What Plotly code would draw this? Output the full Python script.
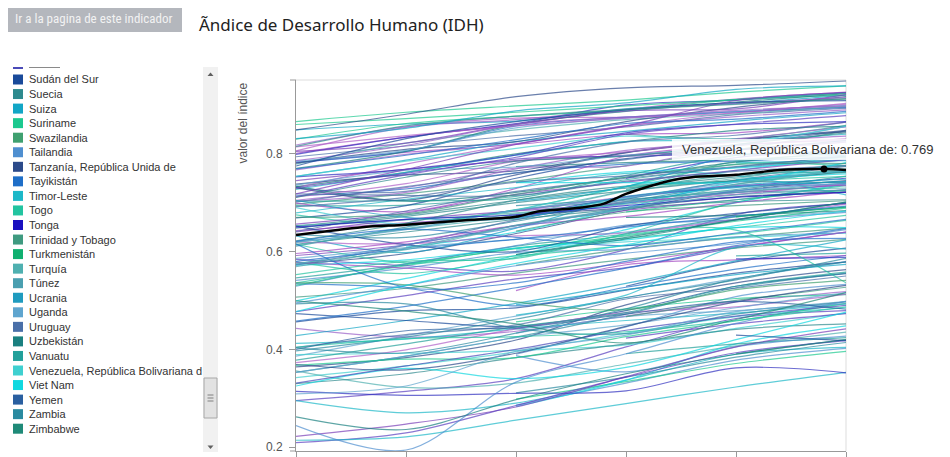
import plotly.graph_objects as go

# años con dato para todos los países
YEARS = [1990, 1995, 2000, 2005, 2010, 2015]

COUNTRIES = [
    "Afganistán", "Albania", "Alemania", "Andorra", "Angola", "Antigua y Barbuda", "Arabia Saudita", "Argelia", "Argentina", "Armenia",
    "Australia", "Austria", "Azerbaiyán", "Bahamas", "Bahrein", "Bangladesh", "Barbados", "Belarús", "Bélgica", "Belice",
    "Benin", "Bhután", "Bolivia (Estado Plurinacional de)", "Bosnia y Herzegovina", "Botswana", "Brasil", "Brunei Darussalam", "Bulgaria", "Burkina Faso", "Burundi",
    "Cabo Verde", "Camboya", "Camerún", "Canadá", "Chad", "Chile", "China", "Chipre", "Colombia", "Comoras",
    "Congo", "Congo (República Democrática del)", "Corea (República de)", "Costa Rica", "Côte d'Ivoire", "Croacia", "Cuba", "Dinamarca", "Djibouti", "Dominica",
    "Ecuador", "Egipto", "El Salvador", "Emiratos Árabes Unidos", "Eritrea", "Eslovaquia", "Eslovenia", "España", "Estados Unidos", "Estonia",
    "Etiopía", "Federación de Rusia", "Fiji", "Filipinas", "Finlandia", "Francia", "Gabón", "Gambia", "Georgia", "Ghana",
    "Granada", "Grecia", "Guatemala", "Guinea", "Guinea Ecuatorial", "Guinea-Bissau", "Guyana", "Haití", "Honduras", "Hong Kong, China (RAE)",
    "Hungría", "India", "Indonesia", "Irán (República Islámica del)", "Iraq", "Irlanda", "Islandia", "Israel", "Italia", "Jamaica",
    "Japón", "Jordania", "Kazajstán", "Kenya", "Kirguistán", "Kiribati", "Kuwait", "Lesotho", "Letonia", "Líbano",
    "Liberia", "Libia", "Liechtenstein", "Lituania", "Luxemburgo", "Macedonia", "Madagascar", "Malasia", "Malawi", "Maldivas",
    "Malí", "Malta", "Marruecos", "Mauricio", "Mauritania", "México", "Micronesia", "Moldova (República de)", "Mongolia", "Montenegro",
    "Mozambique", "Myanmar", "Namibia", "Nepal", "Nicaragua", "Níger", "Nigeria", "Noruega", "Nueva Zelandia", "Omán",
    "Países Bajos", "Pakistán", "Palau", "Palestina, Estado de", "Panamá", "Papua Nueva Guinea", "Paraguay", "Perú", "Polonia", "Portugal",
    "Qatar", "Reino Unido", "República Árabe Siria", "República Centroafricana", "República Checa", "República Democrática Popular Lao", "República Dominicana", "Rumania", "Rwanda", "Saint Kitts y Nevis",
    "Samoa", "San Vicente y las Granadinas", "Santa Lucía", "Santo Tomé y Príncipe", "Senegal", "Serbia", "Seychelles", "Sierra Leona", "Singapur", "Sri Lanka",
    "Sudáfrica", "Sudán", "Sudán del Sur", "Suecia", "Suiza", "Suriname", "Swazilandia", "Tailandia", "Tanzanía, República Unida de", "Tayikistán",
    "Timor-Leste", "Togo", "Tonga", "Trinidad y Tobago", "Turkmenistán", "Turquía", "Túnez", "Ucrania", "Uganda", "Uruguay",
    "Uzbekistán", "Vanuatu", "Viet Nam", "Yemen", "Zambia", "Zimbabwe",
]

HDI_1990 = [
    0.295, 0.635, 0.801, None, None, None, 0.697, 0.574, 0.705, 0.632,
    0.866, 0.794, None, None, 0.745, 0.386, 0.714, None, 0.806, 0.615,
    0.342, None, 0.536, None, 0.584, 0.611, 0.782, 0.694, None, 0.295,
    None, 0.364, 0.443, 0.849, None, 0.701, 0.499, 0.733, 0.592, None,
    0.534, 0.356, 0.731, 0.652, 0.389, 0.669, 0.675, 0.799, None, None,
    0.643, 0.546, 0.529, 0.727, None, 0.738, 0.767, 0.754, 0.860, 0.730,
    None, 0.734, 0.640, 0.586, 0.783, 0.779, 0.620, 0.330, None, 0.456,
    None, 0.753, 0.477, None, None, None, 0.541, 0.412, 0.507, 0.781,
    0.703, 0.428, 0.531, 0.572, 0.572, 0.770, 0.805, 0.785, 0.769, 0.653,
    0.814, 0.622, 0.690, 0.473, 0.615, None, 0.712, 0.493, 0.699, None,
    None, 0.679, None, 0.731, 0.786, None, None, 0.641, 0.325, None,
    0.222, 0.736, 0.458, 0.619, 0.373, 0.648, None, 0.652, 0.579, None,
    0.209, 0.353, 0.578, 0.378, 0.495, 0.214, None, 0.849, 0.818, None,
    0.830, 0.404, None, None, 0.656, 0.353, 0.580, 0.613, 0.712, 0.711,
    0.754, 0.775, 0.553, 0.314, 0.730, 0.397, 0.596, 0.703, 0.244, None,
    None, None, None, None, 0.367, 0.718, None, 0.262, 0.718, 0.620,
    0.621, 0.331, None, 0.815, 0.831, None, 0.536, 0.574, 0.369, 0.616,
    None, 0.404, 0.650, 0.670, None, 0.576, 0.569, 0.705, 0.309, 0.692,
    None, None, 0.477, 0.400, 0.403, 0.499,
]

HDI_1995 = [
    0.314, 0.629, 0.834, None, None, None, 0.718, 0.596, 0.731, 0.598,
    0.885, 0.816, 0.609, None, 0.768, 0.428, 0.728, 0.656, 0.854, 0.640,
    0.366, None, 0.571, None, 0.571, 0.650, 0.803, 0.695, None, 0.270,
    None, 0.383, 0.425, 0.861, None, 0.733, 0.545, 0.762, 0.614, None,
    0.525, 0.322, 0.779, 0.675, 0.392, 0.694, 0.654, 0.834, None, None,
    0.659, 0.575, 0.575, 0.762, None, 0.757, 0.799, 0.787, 0.872, 0.723,
    None, 0.703, 0.666, 0.608, 0.805, 0.822, 0.616, 0.350, None, 0.479,
    None, 0.768, 0.510, None, None, None, 0.566, 0.421, 0.525, 0.809,
    0.721, 0.459, 0.573, 0.613, 0.583, 0.805, 0.822, 0.807, 0.797, 0.665,
    0.837, 0.658, 0.656, 0.459, 0.577, None, 0.757, 0.493, 0.682, None,
    None, 0.707, None, 0.705, 0.817, None, None, 0.683, 0.361, None,
    0.247, 0.766, 0.488, 0.646, 0.399, 0.672, None, 0.614, 0.555, None,
    0.229, 0.386, 0.566, 0.411, 0.531, 0.221, None, 0.881, 0.855, None,
    0.862, 0.430, None, None, 0.679, 0.386, 0.605, 0.647, 0.739, 0.752,
    0.785, 0.831, 0.580, 0.306, 0.760, 0.425, 0.620, 0.704, 0.194, None,
    None, None, None, None, 0.380, 0.715, None, 0.236, 0.768, 0.645,
    0.646, 0.366, None, 0.857, 0.852, None, 0.532, 0.614, 0.358, 0.527,
    None, 0.422, 0.666, 0.677, None, 0.604, 0.607, 0.670, 0.325, 0.711,
    None, None, 0.531, 0.438, 0.393, 0.478,
]

HDI_2000 = [
    0.340, 0.662, 0.860, None, 0.390, None, 0.744, 0.637, 0.771, 0.648,
    0.898, 0.837, 0.640, 0.774, 0.786, 0.468, 0.761, 0.683, 0.873, 0.666,
    0.395, None, 0.607, 0.670, 0.560, 0.685, 0.819, 0.713, 0.286, 0.290,
    0.572, 0.419, 0.437, 0.867, 0.298, 0.761, 0.592, 0.800, 0.653, 0.433,
    0.489, 0.331, 0.820, 0.705, 0.398, 0.750, 0.686, 0.862, None, 0.694,
    0.670, 0.611, 0.612, 0.797, None, 0.765, 0.821, 0.825, 0.885, 0.781,
    0.283, 0.721, 0.683, 0.625, 0.857, 0.849, 0.632, 0.383, 0.672, 0.485,
    None, 0.798, 0.544, 0.311, 0.520, None, 0.598, 0.442, 0.556, 0.825,
    0.769, 0.494, 0.606, 0.665, 0.607, 0.860, 0.861, 0.853, 0.829, 0.679,
    0.857, 0.705, 0.685, 0.447, 0.591, None, 0.789, 0.443, 0.729, None,
    0.387, 0.731, None, 0.757, 0.860, 0.669, 0.456, 0.723, 0.340, 0.594,
    0.282, 0.773, 0.526, 0.674, 0.442, 0.700, 0.603, 0.600, 0.588, None,
    0.285, 0.425, 0.552, 0.446, 0.571, 0.255, None, 0.917, 0.870, 0.703,
    0.877, 0.450, 0.741, None, 0.717, 0.424, 0.625, 0.677, 0.785, 0.785,
    0.811, 0.866, 0.586, 0.310, 0.793, 0.462, 0.653, 0.709, 0.333, None,
    0.642, 0.674, 0.683, 0.491, 0.383, 0.715, 0.741, 0.297, 0.819, 0.685,
    0.629, 0.400, None, 0.877, 0.888, None, 0.497, 0.649, 0.392, 0.536,
    0.470, 0.426, 0.675, 0.717, None, 0.653, 0.654, 0.668, 0.396, 0.742,
    0.594, None, 0.576, 0.444, 0.433, 0.452,
]

HDI_2005 = [
    0.405, 0.702, 0.891, 0.840, 0.446, None, 0.776, 0.685, 0.775, 0.708,
    0.910, 0.855, 0.690, 0.782, 0.797, 0.506, 0.779, 0.725, 0.875, 0.688,
    0.433, 0.529, 0.627, 0.712, 0.604, 0.705, 0.840, 0.747, 0.331, 0.337,
    0.605, 0.491, 0.468, 0.892, 0.334, 0.788, 0.645, 0.825, 0.684, 0.467,
    0.527, 0.370, 0.857, 0.730, 0.409, 0.790, 0.733, 0.900, 0.423, 0.707,
    0.702, 0.636, 0.654, 0.825, None, 0.803, 0.857, 0.846, 0.898, 0.824,
    0.337, 0.752, 0.699, 0.640, 0.875, 0.870, 0.638, 0.411, 0.709, 0.521,
    0.733, 0.843, 0.567, 0.343, 0.573, 0.391, 0.605, 0.459, 0.584, 0.866,
    0.807, 0.535, 0.632, 0.707, 0.624, 0.887, 0.888, 0.873, 0.862, 0.702,
    0.873, 0.734, 0.733, 0.479, 0.612, None, 0.795, 0.432, 0.795, 0.727,
    0.354, 0.760, None, 0.802, 0.875, 0.699, 0.483, 0.750, 0.363, 0.629,
    0.344, 0.797, 0.566, 0.723, 0.475, 0.724, 0.620, 0.652, 0.637, 0.750,
    0.343, 0.472, 0.577, 0.475, 0.597, 0.289, 0.467, 0.935, 0.891, 0.733,
    0.890, 0.503, 0.763, 0.670, 0.742, 0.450, 0.650, 0.697, 0.804, 0.795,
    0.836, 0.890, 0.634, 0.315, 0.840, 0.506, 0.672, 0.756, 0.391, None,
    0.681, 0.690, 0.712, 0.522, 0.426, 0.744, 0.741, 0.350, 0.857, 0.710,
    0.612, 0.439, None, 0.891, 0.904, 0.681, 0.481, 0.690, 0.447, 0.580,
    0.511, 0.436, 0.694, 0.752, None, 0.687, 0.688, 0.713, 0.429, 0.755,
    0.626, None, 0.614, 0.472, 0.483, 0.413,
]

HDI_2010 = [
    0.463, 0.738, 0.912, 0.831, 0.508, 0.782, 0.808, 0.724, 0.816, 0.731,
    0.926, 0.880, 0.742, 0.788, 0.808, 0.545, 0.785, 0.785, 0.886, 0.702,
    0.467, 0.579, 0.649, 0.733, 0.676, 0.727, 0.843, 0.773, 0.378, 0.390,
    0.629, 0.536, 0.497, 0.903, 0.371, 0.819, 0.700, 0.848, 0.706, 0.479,
    0.564, 0.407, 0.884, 0.753, 0.443, 0.808, 0.779, 0.910, 0.452, 0.721,
    0.717, 0.671, 0.665, 0.827, 0.391, 0.829, 0.876, 0.867, 0.911, 0.838,
    0.411, 0.783, 0.721, 0.666, 0.886, 0.882, 0.666, 0.441, 0.745, 0.556,
    0.744, 0.860, 0.608, 0.384, 0.583, 0.411, 0.630, 0.474, 0.607, 0.895,
    0.824, 0.581, 0.662, 0.746, 0.649, 0.906, 0.892, 0.887, 0.871, 0.725,
    0.884, 0.743, 0.766, 0.529, 0.636, 0.585, 0.799, 0.472, 0.818, 0.757,
    0.405, 0.756, 0.904, 0.827, 0.889, 0.735, 0.504, 0.772, 0.420, 0.665,
    0.405, 0.817, 0.612, 0.750, 0.487, 0.746, 0.628, 0.678, 0.701, 0.792,
    0.393, 0.526, 0.610, 0.529, 0.616, 0.323, 0.500, 0.940, 0.903, 0.797,
    0.911, 0.525, 0.771, 0.674, 0.766, 0.485, 0.672, 0.721, 0.830, 0.819,
    0.825, 0.905, 0.644, 0.362, 0.861, 0.542, 0.700, 0.797, 0.453, 0.747,
    0.694, 0.712, 0.735, 0.553, 0.458, 0.764, 0.743, 0.390, 0.909, 0.742,
    0.638, 0.468, 0.429, 0.901, 0.932, 0.706, 0.522, 0.724, 0.497, 0.620,
    0.609, 0.459, 0.711, 0.778, 0.671, 0.737, 0.716, 0.733, 0.477, 0.774,
    0.665, 0.591, 0.653, 0.498, 0.544, 0.461,
]

HDI_2015 = [
    0.479, 0.764, 0.926, 0.858, 0.533, 0.786, 0.847, 0.745, 0.827, 0.743,
    0.939, 0.893, 0.759, 0.792, 0.824, 0.579, 0.795, 0.796, 0.896, 0.706,
    0.485, 0.607, 0.674, 0.750, 0.698, 0.754, 0.865, 0.794, 0.402, 0.404,
    0.648, 0.563, 0.518, 0.920, 0.396, 0.847, 0.738, 0.856, 0.727, 0.498,
    0.592, 0.435, 0.901, 0.776, 0.474, 0.827, 0.775, 0.925, 0.473, 0.726,
    0.739, 0.691, 0.680, 0.840, 0.420, 0.845, 0.890, 0.884, 0.920, 0.865,
    0.448, 0.804, 0.736, 0.682, 0.895, 0.897, 0.697, 0.452, 0.769, 0.579,
    0.754, 0.866, 0.640, 0.414, 0.592, 0.424, 0.638, 0.493, 0.625, 0.917,
    0.836, 0.624, 0.689, 0.774, 0.649, 0.923, 0.921, 0.899, 0.887, 0.730,
    0.903, 0.741, 0.794, 0.555, 0.664, 0.588, 0.800, 0.497, 0.830, 0.763,
    0.427, 0.716, 0.912, 0.848, 0.898, 0.748, 0.512, 0.789, 0.476, 0.701,
    0.442, 0.856, 0.647, 0.781, 0.513, 0.762, 0.638, 0.699, 0.735, 0.807,
    0.418, 0.556, 0.640, 0.558, 0.645, 0.353, 0.527, 0.949, 0.915, 0.796,
    0.924, 0.550, 0.788, 0.684, 0.788, 0.516, 0.693, 0.740, 0.855, 0.843,
    0.856, 0.909, 0.536, 0.352, 0.878, 0.586, 0.722, 0.802, 0.498, 0.765,
    0.704, 0.722, 0.735, 0.574, 0.494, 0.776, 0.782, 0.420, 0.925, 0.766,
    0.666, 0.490, 0.418, 0.913, 0.939, 0.725, 0.541, 0.740, 0.531, 0.627,
    0.605, 0.487, 0.721, 0.780, 0.691, 0.767, 0.725, 0.743, 0.493, 0.795,
    0.701, 0.597, 0.683, 0.482, 0.579, 0.516,
]

# país resaltado (negro) con más años
VEN_NAME = "Venezuela, República Bolivariana de"
VEN_YEARS = [1990, 1993, 1995, 1998, 2000, 2001, 2003, 2004, 2005, 2007, 2008, 2010, 2011, 2012, 2014, 2015]
VEN_HDI = [0.634, 0.650, 0.655, 0.665, 0.671, 0.682, 0.690, 0.698, 0.718, 0.745, 0.752, 0.757, 0.762, 0.767, 0.769, 0.767]
HOVER_YEAR = 2014

Y_TICKS = [0.2, 0.4, 0.6, 0.8]

LEGEND_NAMES = [
    "Sudán del Sur", "Suecia", "Suiza", "Suriname", "Swazilandia", "Tailandia",
    "Tanzanía, República Unida de", "Tayikistán", "Timor-Leste", "Togo", "Tonga",
    "Trinidad y Tobago", "Turkmenistán", "Turquía", "Túnez", "Ucrania", "Uganda",
    "Uruguay", "Uzbekistán", "Vanuatu", VEN_NAME, "Viet Nam", "Yemen", "Zambia", "Zimbabwe",
]

LEGEND_COLORS = {
    "Sudán": "#4a4ab8", "Sudán del Sur": "#1a4a9a", "Suecia": "#2e8a8e", "Suiza": "#12a6c6",
    "Suriname": "#1cc98f", "Swazilandia": "#3fa070", "Tailandia": "#4f8fd0",
    "Tanzanía, República Unida de": "#2c4a8a", "Tayikistán": "#1f6fc8", "Timor-Leste": "#1cb8c8",
    "Togo": "#22c4a0", "Tonga": "#1a10c0", "Trinidad y Tobago": "#3f9a80", "Turkmenistán": "#10b070",
    "Turquía": "#4fb0b0", "Túnez": "#4a9fb0", "Ucrania": "#1f9bbf", "Uganda": "#5fa5cf",
    "Uruguay": "#4a6fa8", "Uzbekistán": "#1a8080", "Vanuatu": "#22a09a", VEN_NAME: "#3fd0d0",
    "Viet Nam": "#10d8e0", "Yemen": "#2a5fa0", "Zambia": "#2a8aa0", "Zimbabwe": "#1f8a78",
}

PALETTE = ["#5b3fc0", "#2a8aa0", "#a348c2", "#22a09a", "#4f8fd0", "#1cb8c8", "#3f9a80", "#2c4a8a",
           "#9a5fc8", "#12a6c6", "#1cc98f", "#4a6fa8", "#10d8e0", "#1a8080", "#7a3fb8", "#5fa5cf",
           "#1f6fc8", "#4fb0b0", "#b060c8", "#2e8a8e", "#3fd0d0", "#1a4a9a", "#22c4a0", "#3030c0"]

# área del gráfico en píxeles de la página (la página tiene 8px de margen)
OFF = 8
L, R, T, B = 296, 846, 80, 451
W, H = 950, 457


def fx(px):
    return (px - L) / (R - L)


def fy(py):
    return (B - py) / (B - T)


fig = go.Figure()

for i, name in enumerate(COUNTRIES):
    vals = [HDI_1990[i], HDI_1995[i], HDI_2000[i], HDI_2005[i], HDI_2010[i], HDI_2015[i]]
    color = LEGEND_COLORS.get(name, PALETTE[i % len(PALETTE)])
    fig.add_trace(go.Scatter(
        x=YEARS, y=vals, name=name, mode="lines",
        line=dict(color=color, width=1.2, shape="spline", smoothing=0.9),
        opacity=0.7, hoverinfo="skip"))

fig.add_trace(go.Scatter(
    x=VEN_YEARS, y=VEN_HDI, name=VEN_NAME, mode="lines",
    line=dict(color="#000000", width=2.5, shape="spline", smoothing=0.8),
    hoverinfo="skip"))

hv = VEN_HDI[VEN_YEARS.index(HOVER_YEAR)]
fig.add_trace(go.Scatter(
    x=[HOVER_YEAR], y=[hv], mode="markers",
    marker=dict(color="#000000", size=7), hoverinfo="skip"))

shapes = []
annotations = []
gray = "#999999"

# marco claro arriba y a la derecha
shapes.append(dict(type="line", xref="paper", yref="paper", x0=0, x1=1, y0=1, y1=1,
                   line=dict(color="#dddddd", width=1), layer="below"))
shapes.append(dict(type="line", xref="paper", yref="paper", x0=1, x1=1, y0=0, y1=1,
                   line=dict(color="#dddddd", width=1), layer="below"))
# marcas extremas del eje y
for yy in (0, 1):
    shapes.append(dict(type="line", xref="paper", yref="paper", x0=fx(290), x1=0, y0=yy, y1=yy,
                       line=dict(color=gray, width=1)))

# caja del tooltip
shapes.append(dict(type="rect", xref="paper", yref="paper", x0=fx(672), x1=fx(946),
                   y0=fy(160), y1=fy(139), fillcolor="rgba(255,255,255,0.85)",
                   line=dict(width=0), layer="above"))
annotations.append(dict(xref="paper", yref="paper", x=fx(680), y=fy(149.5), xanchor="left",
                        yanchor="middle", showarrow=False,
                        text=f"{VEN_NAME}: {hv:.3f}",
                        font=dict(family="Liberation Sans, Arial", size=13, color="#333333")))

# botón
shapes.append(dict(type="rect", xref="paper", yref="paper", x0=fx(5), x1=fx(182),
                   y0=fy(32), y1=fy(6), fillcolor="#b4b7bd", line=dict(width=0)))
annotations.append(dict(xref="paper", yref="paper", x=fx(93.5), y=fy(19), showarrow=False,
                        text="Ir a la pagina de este indicador", xanchor="center", yanchor="middle",
                        font=dict(family="Liberation Sans Narrow, Roboto Condensed, DejaVu Sans Condensed, Roboto",
                                  size=13, color="#f2f2f2")))
# título
annotations.append(dict(xref="paper", yref="paper", x=fx(197), y=fy(24), showarrow=False,
                        text="Ãndice de Desarrollo Humano (IDH)", xanchor="left", yanchor="middle",
                        font=dict(family="Noto Sans", size=17, color="#222222")))
# título del eje y
annotations.append(dict(xref="paper", yref="paper", x=fx(242), y=fy(81), showarrow=False,
                        text="valor del índice", textangle=-90, xanchor="center", yanchor="top",
                        font=dict(family="Liberation Sans, Arial", size=12, color="#555555")))

# lista de países con barra de desplazamiento
shapes.append(dict(type="rect", xref="paper", yref="paper", x0=fx(13), x1=fx(23),
                   y0=fy(69), y1=fy(67), fillcolor=LEGEND_COLORS["Sudán"], line=dict(width=0)))
shapes.append(dict(type="line", xref="paper", yref="paper", x0=fx(29), x1=fx(60),
                   y0=fy(67.5), y1=fy(67.5), line=dict(color="#8a8a8a", width=1)))
for i, name in enumerate(LEGEND_NAMES):
    yc = 79.5 + i * 14.55
    shapes.append(dict(type="rect", xref="paper", yref="paper", x0=fx(13), x1=fx(23),
                       y0=fy(yc + 5), y1=fy(yc - 5), fillcolor=LEGEND_COLORS[name],
                       line=dict(width=0)))
    label = name if name != VEN_NAME else "Venezuela, República Bolivariana d"
    annotations.append(dict(xref="paper", yref="paper", x=fx(27), y=fy(yc), xanchor="left",
                            yanchor="middle", showarrow=False, text=label,
                            font=dict(family="Liberation Sans, Arial", size=11, color="#333333")))

shapes.append(dict(type="rect", xref="paper", yref="paper", x0=fx(203), x1=fx(218),
                   y0=fy(452), y1=fy(67), fillcolor="#f1f1f1", line=dict(width=0)))
shapes.append(dict(type="rect", xref="paper", yref="paper", x0=fx(204), x1=fx(217),
                   y0=fy(418), y1=fy(378), fillcolor="#e2e2e2", line=dict(color="#a8a8a8", width=1)))
for gy in (395, 398, 401):
    shapes.append(dict(type="line", xref="paper", yref="paper", x0=fx(207.5), x1=fx(213.5),
                       y0=fy(gy), y1=fy(gy), line=dict(color="#808080", width=1)))
shapes.append(dict(type="path", xref="paper", yref="paper",
                   path=f"M{fx(207.5)},{fy(76)} L{fx(213.5)},{fy(76)} L{fx(210.5)},{fy(72.5)} Z",
                   fillcolor="#606060", line=dict(width=0)))
shapes.append(dict(type="path", xref="paper", yref="paper",
                   path=f"M{fx(207.5)},{fy(445.5)} L{fx(213.5)},{fy(445.5)} L{fx(210.5)},{fy(449)} Z",
                   fillcolor="#606060", line=dict(width=0)))

fig.update_layout(
    width=W, height=H,
    margin=dict(l=L - OFF, r=W - (R - OFF), t=T - OFF, b=H - (B - OFF), pad=0, autoexpand=False),
    paper_bgcolor="white", plot_bgcolor="white",
    showlegend=False, hovermode=False,
    font=dict(family="Liberation Sans, Arial", color="#555555", size=12),
    shapes=shapes, annotations=annotations,
    xaxis=dict(range=[YEARS[0], YEARS[-1]], tickvals=YEARS, showticklabels=False,
               showgrid=False, zeroline=False, showline=True, linecolor=gray, linewidth=1,
               ticks="outside", ticklen=6, tickcolor=gray, automargin=False),
    yaxis=dict(range=[0.192, 0.951], tickvals=Y_TICKS, tickformat=".1f",
               showgrid=False, zeroline=False, showline=True, linecolor=gray, linewidth=1,
               ticks="outside", ticklen=6, tickcolor=gray, ticklabelstandoff=4,
               tickfont=dict(size=12, color="#555555"), automargin=False),
)

fig.write_html("out.html")
